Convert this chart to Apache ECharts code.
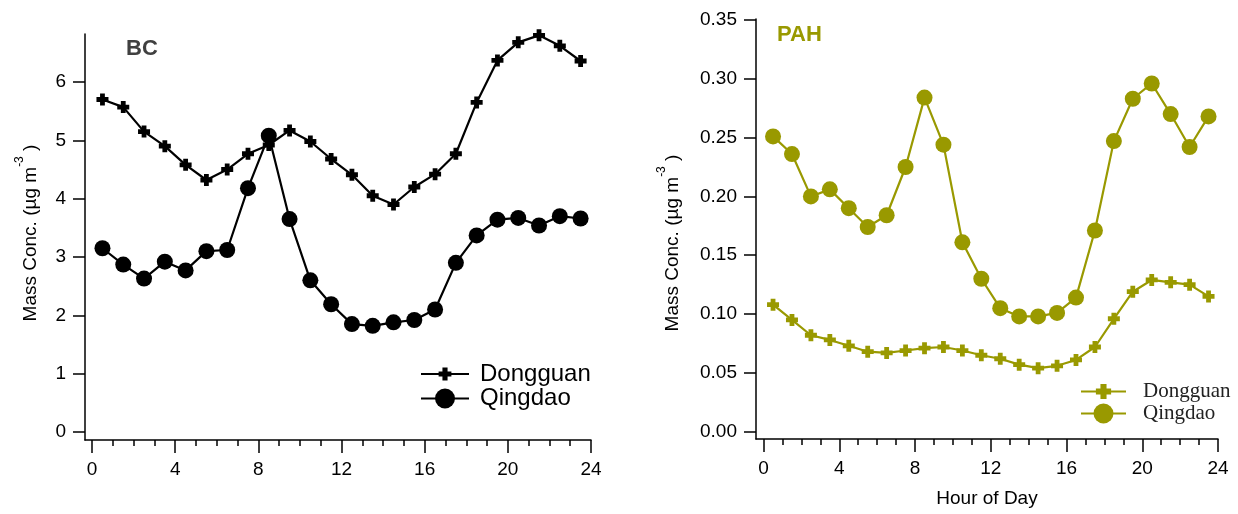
<!DOCTYPE html>
<html>
<head>
<meta charset="UTF-8">
<title>BC / PAH diurnal</title>
<script src="https://cdn.jsdelivr.net/npm/echarts@6/dist/echarts.min.js"></script>
<style>
  html, body { margin: 0; padding: 0; background: #fff; }
  #left { position: absolute; left: 0; top: 0; width: 620px; height: 514px; }
  #right { position: absolute; left: 620px; top: 0; width: 618px; height: 514px; }
</style>
</head>
<body>
<div id="left"></div>
<div id="right"></div>
<script>
// hour of day (bin centres)
var hours = [0.5, 1.5, 2.5, 3.5, 4.5, 5.5, 6.5, 7.5, 8.5, 9.5, 10.5, 11.5,
             12.5, 13.5, 14.5, 15.5, 16.5, 17.5, 18.5, 19.5, 20.5, 21.5, 22.5, 23.5];

var bcDongguan = [5.70, 5.57, 5.15, 4.90, 4.58, 4.32, 4.50, 4.77, 4.92, 5.17, 4.98, 4.68,
                  4.41, 4.05, 3.90, 4.20, 4.42, 4.77, 5.65, 6.37, 6.68, 6.80, 6.62, 6.36];
var bcQingdao  = [3.15, 2.87, 2.63, 2.92, 2.77, 3.10, 3.12, 4.18, 5.08, 3.65, 2.60, 2.19,
                  1.85, 1.82, 1.88, 1.92, 2.10, 2.90, 3.37, 3.64, 3.67, 3.54, 3.70, 3.66];

var pahDongguan = [0.108, 0.095, 0.082, 0.078, 0.073, 0.068, 0.067, 0.069, 0.071, 0.072, 0.069, 0.065,
                   0.062, 0.057, 0.054, 0.056, 0.061, 0.072, 0.096, 0.119, 0.129, 0.127, 0.125, 0.115];
var pahQingdao  = [0.251, 0.236, 0.200, 0.206, 0.190, 0.174, 0.184, 0.225, 0.284, 0.244, 0.161, 0.130,
                   0.105, 0.098, 0.098, 0.101, 0.114, 0.171, 0.247, 0.283, 0.296, 0.270, 0.242, 0.268];

var hourTicks  = [0,1,2,3,4,5,6,7,8,9,10,11,12,13,14,15,16,17,18,19,20,21,22,23,24];
var hourLabels = [0, 4, 8, 12, 16, 20, 24];
var bcTicks  = [0, 1, 2, 3, 4, 5, 6];
var pahTicks = [0, 0.05, 0.10, 0.15, 0.20, 0.25, 0.30, 0.35];

var FONT = 'Liberation Sans, Arial, sans-serif';
var SERIF = 'Liberation Serif, Times New Roman, serif';
var OLIVE = '#999900';
var PLUS = 'path://M3,0H7V3H10V7H7V10H3V7H0V3H3Z';

function pairs(xs, ys) {
  return xs.map(function (x, i) { return [x, ys[i]]; });
}

function xAxes(xmin, name) {
  return [{
    type: 'value', position: 'bottom', min: xmin, max: 24,
    name: name || '', nameLocation: 'middle', nameGap: 50,
    nameTextStyle: { fontSize: 19, color: '#000', fontFamily: FONT },
    axisLine: { onZero: false, lineStyle: { color: '#000', width: 1.5 } },
    axisTick: { customValues: hourLabels, length: 13, lineStyle: { color: '#000', width: 1.5 } },
    axisLabel: { customValues: hourLabels, margin: 20, fontSize: 19, color: '#000', fontFamily: FONT },
    splitLine: { show: false }
  }, {
    // minor hour ticks
    type: 'value', position: 'bottom', min: xmin, max: 24,
    axisLine: { show: false, onZero: false },
    axisTick: { customValues: hourTicks, length: 6, lineStyle: { color: '#000', width: 1.5 } },
    axisLabel: { show: false },
    splitLine: { show: false }
  }];
}

function yAxis(min, max, ticks, gap, fmt, pad) {
  return {
    type: 'value', min: min, max: max,
    name: '{a|Mass Conc. (µg m}{s|-3}{a| )}',
    nameLocation: 'middle', nameRotate: 90, nameGap: gap,
    nameTextStyle: {
      padding: pad,
      rich: {
        a: { fontSize: 19, lineHeight: 26, verticalAlign: 'bottom', color: '#000', fontFamily: FONT },
        s: { fontSize: 12, lineHeight: 12, verticalAlign: 'top', color: '#000', fontFamily: FONT }
      }
    },
    axisLine: { onZero: false, lineStyle: { color: '#000', width: 1.5 } },
    axisTick: { customValues: ticks, length: 12, lineStyle: { color: '#000', width: 1.5 } },
    axisLabel: { customValues: ticks, margin: 19, fontSize: 19, color: '#000', fontFamily: FONT, formatter: fmt },
    splitLine: { show: false }
  };
}

function legend(name, left, top, h, w, gap, size, family, color) {
  return {
    data: [name], left: left, top: top, padding: 0,
    itemWidth: w, itemHeight: h, selectedMode: false,
    textStyle: { fontSize: size, fontFamily: family, color: color, lineHeight: h, padding: [0, 0, 0, gap] }
  };
}

var leftChart = echarts.init(document.getElementById('left'));
leftChart.setOption({
  animation: false,
  title: { text: 'BC', left: 126, top: 38, padding: 0,
           textStyle: { fontSize: 22, fontWeight: 'bold', color: '#404040', fontFamily: FONT } },
  grid: { left: 85, top: 34, right: 29, bottom: 74 },
  legend: [
    legend('Dongguan', 420, 362, 16, 48, 6, 24, FONT, '#000'),
    legend('Qingdao', 420, 386, 25, 48, 6, 24, FONT, '#000')
  ],
  xAxis: xAxes(-0.34),
  yAxis: yAxis(-0.137, 6.823, bcTicks, 45, function (v) { return String(v); }, [0, 0, 0, 8]),
  series: [{
    name: 'Dongguan', type: 'line', xAxisIndex: 0,
    data: pairs(hours, bcDongguan),
    symbol: PLUS, symbolSize: 12,
    lineStyle: { color: '#000', width: 2.2 },
    itemStyle: { color: '#000' }
  }, {
    name: 'Qingdao', type: 'line', xAxisIndex: 0,
    data: pairs(hours, bcQingdao),
    symbol: 'circle', symbolSize: 16,
    lineStyle: { color: '#000', width: 2.2 },
    itemStyle: { color: '#000' }
  }]
});

var rightChart = echarts.init(document.getElementById('right'));
rightChart.setOption({
  animation: false,
  title: { text: 'PAH', left: 157, top: 24, padding: 0,
           textStyle: { fontSize: 22, fontWeight: 'bold', color: OLIVE, fontFamily: FONT } },
  grid: { left: 136, top: 19, right: 20, bottom: 75 },
  legend: [
    legend('Dongguan', 460, 381, 19, 45, 12, 21, SERIF, '#222'),
    legend('Qingdao', 460, 401, 25, 45, 12, 21, SERIF, '#222')
  ],
  xAxis: xAxes(-0.4, 'Hour of Day'),
  yAxis: yAxis(-0.0062, 0.3508, pahTicks, 74, function (v) { return v.toFixed(2); }, [0, 28, 0, 0]),
  series: [{
    name: 'Dongguan', type: 'line', xAxisIndex: 0,
    data: pairs(hours, pahDongguan),
    symbol: PLUS, symbolSize: 12,
    lineStyle: { color: OLIVE, width: 2.2 },
    itemStyle: { color: OLIVE }
  }, {
    name: 'Qingdao', type: 'line', xAxisIndex: 0,
    data: pairs(hours, pahQingdao),
    symbol: 'circle', symbolSize: 16,
    lineStyle: { color: OLIVE, width: 2.2 },
    itemStyle: { color: OLIVE }
  }]
});
</script>
</body>
</html>
